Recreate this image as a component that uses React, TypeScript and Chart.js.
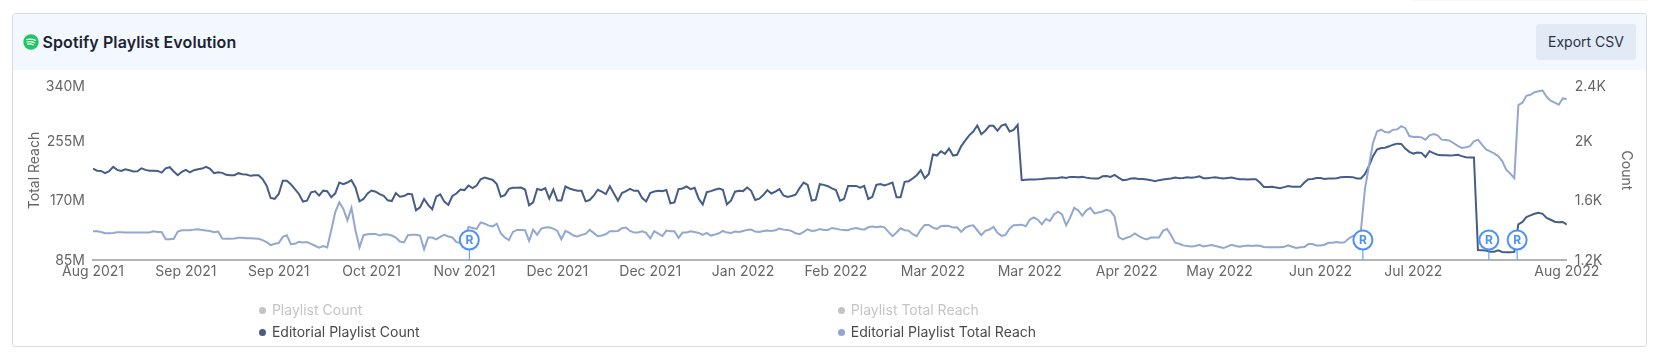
import React, { useEffect, useRef } from "react";
import { Chart, registerables } from "chart.js";

Chart.register(...registerables);

const editorialCount = [
  1813,1799,1797,1782,1795,1824,1804,1797,1808,1802,
  1793,1795,1815,1804,1799,1799,1797,1786,1815,1822,
  1793,1768,1791,1804,1788,1802,1808,1813,1824,1811,
  1782,1788,1784,1771,1768,1768,1782,1775,1773,1764,
  1768,1768,1742,1697,1615,1609,1642,1731,1731,1708,
  1675,1642,1591,1597,1653,1660,1631,1664,1660,1620,
  1646,1719,1708,1719,1735,1686,
  1592,1608,1645,1665,1657,1641,1630,1599,1594,1648,
  1623,1628,1643,1639,1532,1552,1608,1568,1539,1623,
  1639,1590,1568,1628,1645,1672,1668,1699,1681,1699,
  1741,1752,1745,1736,1708,1623,1634,1676,1683,1683,
  1685,1672,1565,1585,1676,1668,1681,1610,1672,1597,
  1597,1692,1679,1670,1663,1663,1592,1601,1630,1670,
  1657,1641,1694,1645,1597,1648,1661,1676,1663,1663,
  1614,1592,1648,1659,1663,1661,1668,1579,1585,1674,
  1679,1692,1674,1683,1610,1570,1654,1661,1670,1679,
  1670,1572,1597,1657,1663,1661,1685,1663,1601,1610,
  1634,1668,1645,1657,1674,1632,1621,1628,1637,1681,
  1719,1703,1597,1603,1708,1703,1694,1679,1668,1597,
  1608,1696,1696,1696,1685,1696,1608,1623,1703,1708,
  1699,1708,1719,1619,1619,
  1724,1728,1746,1768,1801,1748,1777,1908,1901,1930,
  1912,1948,1901,1906,1963,2001,2037,2063,2103,2045,
  2068,2101,2101,2068,2103,2112,2063,2074,2108,
  1735,1737,1739,1740,1741,1743,1746,1748,1748,1750,
  1755,1750,1757,1757,1755,1757,1752,1748,1746,1746,
  1761,1763,1757,1770,1752,1735,1737,1746,1748,1743,
  1743,1739,1735,1728,1735,1739,1743,1746,1752,1748,
  1750,1755,1752,1755,1761,1748,1748,1752,1755,1750,
  1746,1750,1752,1746,1741,1741,1739,1741,1741,1719,
  1688,1688,1690,1686,1681,1688,1695,1690,1690,1690,
  1719,1741,1743,1750,1750,1743,1746,1746,1748,1755,
  1757,1757,1755,1746,1746,1775,1830,1897,1941,1952,
  1954,1963,1974,1981,1979,1948,1926,1914,1921,1919,
  1892,1930,1917,1906,1903,1903,1901,1903,1906,1897,
  1890,1888,1888,
  1264,1262,1260,1253,1253,1262,1251,1249,1249,1251,
  1437,1453,1486,1497,1508,1515,1508,1480,1468,1455,1451,1453,1435,
];

const editorialReach = [
  125.4,125.4,124.5,122.6,122.6,123.1,124,124,123.6,123.6,
  123.6,123.6,123.6,123.6,123.6,125.4,124.5,124.5,114.1,114.1,
  114.6,125,126.9,126.9,126.9,127.8,128.3,127.3,126.4,125.9,
  124,125,115,114.6,114.6,115,116,116,115.5,115.5,
  115,114.6,112.7,109.9,105.6,107.5,108.5,117.4,119.8,107,
  107.5,110.3,109.4,109.9,107.5,104.7,101.8,104.2,102.3,126.9,
  152.8,167,157.5,141,159,126.9,
  102.3,119.8,121.2,121.7,121.7,119.3,121.2,120.7,119.3,116.5,
  110.8,109.4,119.8,120.3,120.3,119.3,99.5,116.5,116.5,113.7,
  117.4,120.3,117.9,116.5,109.9,108.9,115.1,131.6,130.2,128.8,
  138.2,136.3,133.5,132.5,136.3,122.2,116.5,112.7,124.5,127.4,
  127.4,126.9,111.8,127.8,120.3,129.2,130.7,131.1,129.2,125.9,
  114.1,125.9,123.1,119.3,117.9,120.3,121.7,127.4,123.1,118.4,
  119.3,121.2,125.5,125.5,125.9,129.7,130.7,125.9,123.6,123.6,
  125.5,123.1,115.1,125.5,122.2,
  118.4,126.4,125.5,125.5,116,123.6,123.6,125.5,124.5,123.1,
  120.3,123.1,119.3,120.7,122.6,125.9,123.6,123.1,125,124.5,
  125.9,127.4,127.8,125,124.5,125.9,126.4,125.9,126.9,129.2,
  127.8,127.4,125.9,122.6,121.2,124.5,128.3,125.9,126.4,128.8,
  127.4,127.4,130.2,129.2,127.8,127.4,126.9,129.2,130.2,128.8,
  127.8,131.1,132.1,131.1,132.1,131.1,124.5,118.4,123.6,129.7,
  126.9,126.4,121.3,118.4,127.9,134.5,134.5,130.7,128.8,132.6,
  133.5,133,130.7,131.2,124.6,130.2,133,134,126.9,119.8,
  126,127.9,131.6,123.1,118.9,120.3,129.3,134,134.5,134.9,
  132.6,142,145.3,142,135.4,143,140.1,149.6,153.4,149.6,
  134,144.9,159,155.2,147.7,155.2,159,151,152.4,153.8,
  156.2,154.3,146.7,117.5,113.7,116.1,118,122.2,118.4,115.6,
  113.7,116.5,116.5,116.5,126,128.8,119.8,109,107.6,105.2,
  104.3,103.8,104.3,106.2,103.8,104.7,105.7,104.3,102.8,101.4,
  103.8,106.2,104.3,103.3,104.3,105.2,104.3,105.2,104.7,102.8,
  102.4,102.4,102.4,102.4,103.3,105.2,103.3,101.4,102.4,102.8,
  107.1,107.1,105.2,105.2,106.2,109,109,109.9,109,109.9,
  115.1,118.4,121.3,126,185.9,219,252,268.5,270.9,267.6,
  267.1,270.9,271.4,276.1,273.2,261.9,260.5,261,260,256.7,
  262.9,264.7,262.9,256.7,256.2,255.3,251.5,247.8,244.9,245.9,
  247.3,254.4,
  256.7,249.7,242.6,239.8,236.9,233.1,226,213.8,208.1,201.5,
  306.3,309.6,319.5,320.9,324.7,326.1,327,318.1,312.4,309.6,306.8,315.7,314.8,
];

const releaseDays = [93.2, 314.5, 345.7, 352.7];
const releaseReach = [113, 113, 113, 113];

const xTickDays = [0, 23, 46, 69, 92, 115, 138, 161, 184, 208, 232, 256, 279, 304, 327, 365];
const xTickLabels = [
  "Aug 2021", "Sep 2021", "Sep 2021", "Oct 2021", "Nov 2021", "Dec 2021", "Dec 2021", "Jan 2022",
  "Feb 2022", "Mar 2022", "Mar 2022", "Apr 2022", "May 2022", "Jun 2022", "Jul 2022", "Aug 2022",
];
const reachTicks = [85, 170, 255, 340];
const countTicks = [1200, 1600, 2000, 2400];
const countTickLabels = ["1.2K", "1.6K", "2K", "2.4K"];

const DARK = "#455d88";
const LIGHT = "#93a8cf";
const BLUE = "#4d92f5";
const FONT = "Inter";

const toPoints = (values: number[]) => values.map((y, x) => ({ x, y }));

const nudgeTopLabels = {
  id: "nudgeTopLabels",
  beforeDraw(chart: any) {
    ["yReach", "yCount"].forEach((id) => {
      const scale = chart.scales[id];
      const items = scale.getLabelItems(chart.chartArea);
      items.forEach((item: any, i: number) => {
        if (item.__nudged) return;
        const shift = i === items.length - 1 ? 5 : 1;
        item.options.translation = [item.options.translation[0], item.options.translation[1] + shift];
        item.__nudged = true;
      });
    });
  },
};

const releaseMarks = {
  id: "releaseMarks",
  afterDatasetsDraw(chart: any) {
    const { ctx, chartArea } = chart;
    const meta = chart.getDatasetMeta(0);
    ctx.save();
    meta.data.forEach((p: any) => {
      ctx.strokeStyle = BLUE;
      ctx.lineWidth = 1;
      ctx.beginPath();
      ctx.moveTo(p.x, p.y + 10);
      ctx.lineTo(p.x, chartArea.bottom);
      ctx.stroke();
      ctx.fillStyle = BLUE;
      ctx.font = `700 12px ${FONT}`;
      ctx.textAlign = "center";
      ctx.textBaseline = "middle";
      ctx.fillText("R", p.x, p.y + 0.5);
    });
    ctx.restore();
  },
};

const legendItems = [
  { label: "Playlist Count", dot: "#c4c4c4", text: "#c4c4c4", left: 262.9, top: 310 },
  { label: "Editorial Playlist Count", dot: DARK, text: "#4a4a4a", left: 262.9, top: 332 },
  { label: "Playlist Total Reach", dot: "#c4c4c4", text: "#c4c4c4", left: 841.8, top: 310 },
  { label: "Editorial Playlist Total Reach", dot: LIGHT, text: "#4a4a4a", left: 841.8, top: 332 },
];

export default function App() {
  const ref = useRef<HTMLCanvasElement>(null);
  useEffect(() => {
    const chart = new Chart(ref.current as HTMLCanvasElement, {
      type: "line",
      data: {
        datasets: [
          {
            label: "Releases",
            data: releaseDays.map((x, i) => ({ x, y: releaseReach[i] })),
            yAxisID: "yReach",
            showLine: false,
            pointRadius: 9.5,
            pointBorderWidth: 2,
            pointBackgroundColor: "#ffffff",
            pointBorderColor: BLUE,
            order: 0,
          },
          {
            label: "Editorial Playlist Total Reach",
            data: toPoints(editorialReach),
            yAxisID: "yReach",
            borderColor: LIGHT,
            borderWidth: 2,
            pointRadius: 0,
            tension: 0,
            order: 1,
          },
          {
            label: "Editorial Playlist Count",
            data: toPoints(editorialCount),
            yAxisID: "yCount",
            borderColor: DARK,
            borderWidth: 2,
            pointRadius: 0,
            tension: 0,
            order: 2,
          },
          { label: "Playlist Count", data: [], yAxisID: "yCount", hidden: true },
          { label: "Playlist Total Reach", data: [], yAxisID: "yReach", hidden: true },
        ],
      },
      options: {
        animation: false,
        responsive: false,
        layout: { padding: { top: 10, left: 0, right: 0, bottom: 0 } },
        plugins: { legend: { display: false }, tooltip: { enabled: false } },
        scales: {
          x: {
            type: "linear",
            min: 0,
            max: 365,
            grid: { display: false, drawTicks: false },
            border: { display: true, color: "#b3b3b3", width: 2 },
            afterBuildTicks: (s: any) => {
              s.ticks = xTickDays.map((value) => ({ value }));
            },
            afterFit: (s: any) => {
              s.height = 45.5;
            },
            ticks: {
              autoSkip: false,
              maxRotation: 0,
              padding: 4,
              color: "#666666",
              font: { family: FONT, size: 14 },
              callback: (v: any) => xTickLabels[xTickDays.indexOf(v)] ?? "",
            },
          },
          yReach: {
            type: "linear",
            position: "left",
            min: 85,
            max: 340,
            grid: { display: false, drawTicks: false },
            border: { display: false },
            afterBuildTicks: (s: any) => {
              s.ticks = reachTicks.map((value) => ({ value }));
            },
            afterFit: (s: any) => {
              s.width = 93;
              s.paddingTop = 0;
              s.paddingBottom = 0;
            },
            title: {
              display: true,
              text: "Total Reach",
              color: "#666666",
              font: { family: FONT, size: 14 },
              padding: { top: 26, bottom: 0 },
            },
            ticks: {
              padding: 8,
              color: "#666666",
              font: { family: FONT, size: 14 },
              callback: (v: any) => `${v}M`,
            },
          },
          yCount: {
            type: "linear",
            position: "right",
            min: 1200,
            max: 2400,
            grid: { display: false, drawTicks: false },
            border: { display: false },
            afterBuildTicks: (s: any) => {
              s.ticks = countTicks.map((value) => ({ value }));
            },
            afterFit: (s: any) => {
              s.width = 92.2;
              s.paddingTop = 0;
              s.paddingBottom = 0;
            },
            title: {
              display: true,
              text: "Count",
              color: "#666666",
              font: { family: FONT, size: 14 },
              padding: { top: 24, bottom: 0 },
            },
            ticks: {
              padding: 8,
              color: "#666666",
              font: { family: FONT, size: 14 },
              callback: (v: any) => countTickLabels[countTicks.indexOf(v)] ?? "",
            },
          },
        },
      } as any,
      plugins: [nudgeTopLabels, releaseMarks],
    });
    return () => chart.destroy();
  }, []);

  return (
    <div style={{ position: "absolute", left: 0, top: 0, width: 1659, height: 361, background: "#fff", overflow: "hidden", fontFamily: FONT }}>
      <div style={{ position: "absolute", left: 1412, top: 0, width: 235, height: 1, background: "#f8f8f8" }} />
      <div style={{ position: "absolute", left: 12, top: 13, width: 1635, height: 334, boxSizing: "border-box", border: "1px solid #d9dde3", borderRadius: 3 }} />
      <div style={{ position: "absolute", left: 13, top: 14, width: 1633, height: 56, background: "#f3f8fe" }} />
      <svg width="16" height="16" viewBox="0 0 16 16" style={{ position: "absolute", left: 22.5, top: 34 }}>
        <circle cx="8" cy="8" r="7.7" fill="#1ec760" />
        <path d="M3.6 5.6c3-.9 6.2-.6 8.8.8M4 8c2.5-.7 5.1-.4 7.4.8M4.5 10.2c2-.5 4.1-.3 5.9.7" stroke="#fff" strokeWidth="1.2" strokeLinecap="round" fill="none" />
      </svg>
      <div style={{ position: "absolute", left: 42.5, top: 32, lineHeight: "20px", fontSize: 16, letterSpacing: 0.1, fontWeight: 600, color: "#1a2433", whiteSpace: "nowrap" }}>
        Spotify Playlist Evolution
      </div>
      <div style={{ position: "absolute", left: 1536, top: 24, width: 100, height: 36, borderRadius: 3, background: "#e2ebf5", color: "#2a3342", fontSize: 14, lineHeight: "36px", textAlign: "center" }}>
        Export CSV
      </div>
      <canvas ref={ref} width={1659} height={235} style={{ position: "absolute", left: 0, top: 70, width: 1659, height: 235 }} />
      {legendItems.map((it) => (
        <React.Fragment key={it.label}>
          <div style={{ position: "absolute", left: it.left - 3.5, top: it.top - 3.5, width: 7, height: 7, borderRadius: "50%", background: it.dot }} />
          <div style={{ position: "absolute", left: it.left + 9, top: it.top - 10, lineHeight: "20px", fontSize: 14, color: it.text, whiteSpace: "nowrap" }}>
            {it.label}
          </div>
        </React.Fragment>
      ))}
    </div>
  );
}
